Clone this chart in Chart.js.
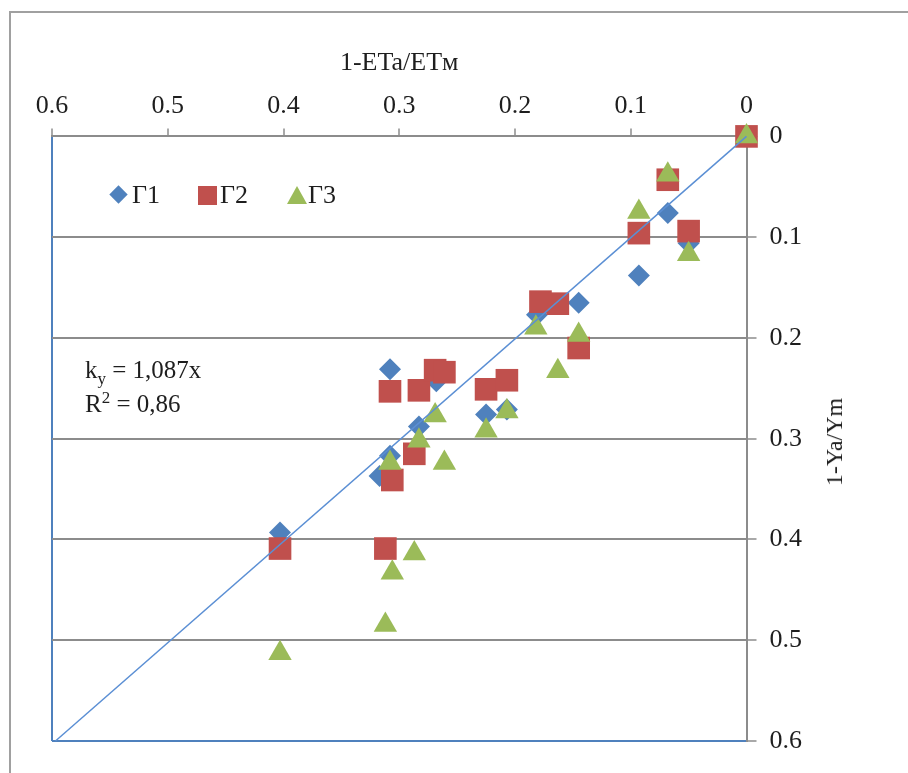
<!DOCTYPE html>
<html>
<head>
<meta charset="utf-8">
<script src="https://cdn.jsdelivr.net/npm/chart.js@4"></script>
<style>
  html, body { margin: 0; padding: 0; background: #fff; overflow: hidden; }
  #wrap { position: relative; width: 908px; height: 773px; }
  #frame { position: absolute; left: 9px; top: 11px; width: 1000px; height: 1000px; border-left: 2px solid #a0a0a0; border-top: 2px solid #a0a0a0; }
  #chart { position: absolute; left: 0; top: 0; }
  .txt { position: absolute; font-family: 'Liberation Serif', 'Times New Roman', serif; color: #1e1e1e; white-space: nowrap; line-height: 1; }
  .leg { font-size: 26px; top: 182px; }
  .mk { position: absolute; }
</style>
</head>
<body>
<div id="wrap">
  <div id="frame"></div>
  <canvas id="chart" width="908" height="773"></canvas>

  <!-- legend inside plot area -->
  <div class="mk" style="left:112px;top:188px;width:13px;height:13px;background:#4f81bd;transform:rotate(45deg);"></div>
  <div class="txt leg" style="left:132px;">Г1</div>
  <div class="mk" style="left:198px;top:186px;width:19px;height:19px;background:#c0504d;"></div>
  <div class="txt leg" style="left:220px;">Г2</div>
  <div class="mk" style="left:287px;top:186px;width:0;height:0;border-left:10px solid transparent;border-right:10px solid transparent;border-bottom:18px solid #9bbb59;"></div>
  <div class="txt leg" style="left:308px;">Г3</div>

  <!-- regression note -->
  <div class="txt" style="left:85px;top:357px;font-size:25px;">k<sub style="font-size:17px;">y</sub> = 1,087x</div>
  <div class="txt" style="left:85px;top:389px;font-size:25px;">R<sup style="font-size:17px;">2</sup> = 0,86</div>

  <!-- right axis title, reads bottom to top -->
  <div class="txt" style="left:834px;top:442px;font-size:24px;transform:translate(-50%,-50%) rotate(-90deg);">1-Ya/Ym</div>
</div>

<script>
// values
const g1X = [0, 0.068, 0.050, 0.093, 0.145, 0.181, 0.308, 0.268, 0.283, 0.308, 0.317, 0.225, 0.207, 0.403];
const g1Y = [0, 0.076, 0.106, 0.138, 0.165, 0.177, 0.231, 0.243, 0.288, 0.317, 0.337, 0.276, 0.271, 0.393];

const g2X = [0, 0.068, 0.093, 0.050, 0.163, 0.178, 0.145, 0.308, 0.283, 0.269, 0.261, 0.287, 0.306, 0.225, 0.207, 0.403, 0.312];
const g2Y = [0, 0.043, 0.096, 0.094, 0.166, 0.164, 0.210, 0.253, 0.252, 0.232, 0.234, 0.315, 0.341, 0.251, 0.242, 0.409, 0.409];

const g3X = [0, 0.068, 0.093, 0.050, 0.182, 0.145, 0.163, 0.269, 0.283, 0.308, 0.261, 0.207, 0.225, 0.287, 0.306, 0.312, 0.403];
const g3Y = [0, 0.038, 0.075, 0.117, 0.190, 0.197, 0.233, 0.277, 0.302, 0.324, 0.324, 0.273, 0.292, 0.414, 0.433, 0.485, 0.513];

// trend line ends
const trendX = [0, 0.597];
const trendY = [0, 0.6];

const axisMin = 0;
const axisMax = 0.6;
const axisStep = 0.1;

const toPoints = (xs, ys) => xs.map((x, i) => ({ x: x, y: ys[i] }));
const isEdge = v => Math.abs(v - axisMax) < 1e-6;

const serif = "'Liberation Serif', 'Times New Roman', serif";
const gridGray = "#8c8c8c";
const blue = "#4f81bd";

new Chart(document.getElementById("chart").getContext("2d"), {
    type: "scatter",
    data: {
        datasets: [
            {
                label: "trend",
                data: toPoints(trendX, trendY),
                showLine: true,
                borderColor: "#5b8fd4",
                borderWidth: 1.5,
                pointRadius: 0,
                clip: false,
                order: 0
            },
            {
                label: "Г1",
                data: toPoints(g1X, g1Y),
                pointStyle: "rectRot",
                pointRadius: 11,
                backgroundColor: blue,
                borderWidth: 0,
                clip: false,
                order: 3
            },
            {
                label: "Г2",
                data: toPoints(g2X, g2Y),
                pointStyle: "rect",
                pointRadius: 16,
                backgroundColor: "#c0504d",
                borderWidth: 0,
                clip: false,
                order: 2
            },
            {
                label: "Г3",
                data: toPoints(g3X, g3Y),
                pointStyle: "triangle",
                pointRadius: 13.5,
                backgroundColor: "#9bbb59",
                borderWidth: 0,
                clip: false,
                order: 1
            }
        ]
    },
    options: {
        responsive: false,
        animation: false,
        devicePixelRatio: 1,
        layout: { padding: { left: 52, top: 36, right: 93, bottom: 32 } },
        plugins: {
            legend: { display: false },
            tooltip: { enabled: false }
        },
        scales: {
            x: {
                type: "linear",
                position: "top",
                reverse: true,
                min: axisMin,
                max: axisMax,
                ticks: {
                    stepSize: axisStep,
                    padding: 7,
                    maxRotation: 0,
                    color: "#1e1e1e",
                    font: { family: serif, size: 26 },
                    callback: v => String(+v.toFixed(1))
                },
                grid: {
                    drawOnChartArea: true,
                    color: ctx => (ctx.tick && isEdge(ctx.tick.value)) ? blue : "rgba(0,0,0,0)",
                    lineWidth: 2,
                    tickColor: gridGray,
                    tickLength: 8,
                    tickWidth: 1.5
                },
                border: { display: true, color: gridGray, width: 2 },
                title: {
                    display: true,
                    text: "1-ETa/ETм",
                    color: "#1e1e1e",
                    font: { family: serif, size: 26 },
                    padding: { top: 12, bottom: 4 }
                }
            },
            y: {
                type: "linear",
                position: "right",
                reverse: true,
                min: axisMin,
                max: axisMax,
                ticks: {
                    stepSize: axisStep,
                    padding: 13,
                    color: "#1e1e1e",
                    font: { family: serif, size: 26 },
                    callback: v => String(+v.toFixed(1))
                },
                grid: {
                    drawOnChartArea: true,
                    color: ctx => (ctx.tick && isEdge(ctx.tick.value)) ? blue : gridGray,
                    lineWidth: 2,
                    tickColor: gridGray,
                    tickLength: 10,
                    tickWidth: 1.5
                },
                border: { display: true, color: gridGray, width: 2 }
            }
        }
    }
});
</script>
</body>
</html>
